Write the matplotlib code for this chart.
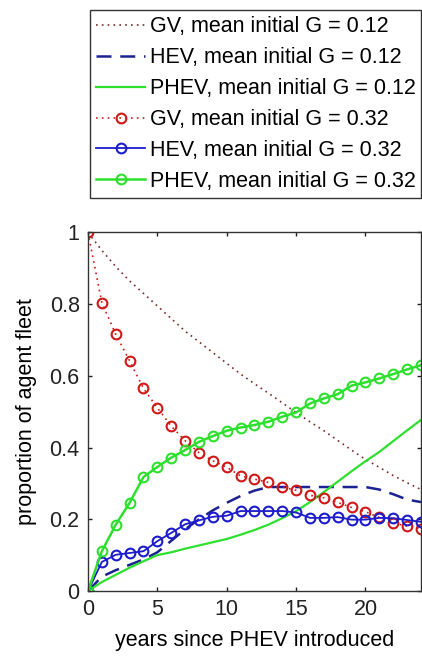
import numpy as np
import matplotlib
matplotlib.use("Agg")
import matplotlib.pyplot as plt

plt.rcParams["font.family"] = ["Liberation Sans", "DejaVu Sans"]

years = np.arange(0, 25)

# mean initial G = 0.12 (lines only)
gv_012 = [1.0, 0.95, 0.905, 0.865, 0.83, 0.795, 0.76, 0.725, 0.695, 0.665,
          0.635, 0.605, 0.578, 0.552, 0.525, 0.498, 0.472, 0.447, 0.42, 0.393,
          0.367, 0.345, 0.322, 0.302, 0.283]
hev_012 = [0.0, 0.04, 0.058, 0.073, 0.088, 0.108, 0.14, 0.172, 0.2, 0.225,
           0.246, 0.265, 0.28, 0.29, 0.29, 0.29, 0.29, 0.29, 0.29, 0.29,
           0.29, 0.283, 0.27, 0.255, 0.248]
phev_012 = [0.0, 0.025, 0.045, 0.065, 0.083, 0.1, 0.108, 0.118, 0.127, 0.136,
            0.145, 0.157, 0.17, 0.185, 0.203, 0.223, 0.248, 0.276, 0.305, 0.334,
            0.362, 0.388, 0.418, 0.448, 0.477]

# mean initial G = 0.32 (lines with circle markers)
gv_032 = [1.0, 0.804, 0.716, 0.642, 0.565, 0.511, 0.46, 0.419, 0.386, 0.363,
          0.345, 0.321, 0.312, 0.303, 0.29, 0.281, 0.267, 0.26, 0.247, 0.233,
          0.221, 0.205, 0.19, 0.181, 0.174]
hev_032 = [0.0, 0.081, 0.101, 0.106, 0.111, 0.139, 0.162, 0.186, 0.197, 0.207,
           0.21, 0.223, 0.223, 0.223, 0.223, 0.219, 0.204, 0.204, 0.206, 0.199,
           0.199, 0.204, 0.203, 0.198, 0.193]
phev_032 = [0.0, 0.111, 0.185, 0.246, 0.318, 0.346, 0.372, 0.393, 0.416, 0.432,
            0.447, 0.456, 0.463, 0.472, 0.486, 0.498, 0.523, 0.537, 0.549, 0.573,
            0.582, 0.593, 0.605, 0.618, 0.63]

labels = [
    "GV, mean initial G = 0.12",
    "HEV, mean initial G = 0.12",
    "PHEV, mean initial G = 0.12",
    "GV, mean initial G = 0.32",
    "HEV, mean initial G = 0.32",
    "PHEV, mean initial G = 0.32",
]

red = "#d01818"
maroon = "#7a2a2a"
blue = "#1c1ccc"
navy = "#1c2290"
green = "#2ee02e"

fig = plt.figure(figsize=(4.22, 6.59), dpi=100)
ax = fig.add_axes([0.2085, 0.1032, 0.789, 0.544])

ax.plot(years, gv_012, color=maroon, lw=1.2, dashes=(1, 2.5), label=labels[0])
ax.plot(years, hev_012, color=navy, lw=1.8, dashes=(6, 3.5), label=labels[1])
ax.plot(years, phev_012, color=green, lw=1.6, label=labels[2])

mk = dict(marker="o", markersize=7, markerfacecolor="none", markeredgewidth=1.5)
ax.plot(years, gv_032, color=red, lw=1.2, dashes=(1, 2.5), label=labels[3], **mk)
ax.plot(years, hev_032, color=blue, lw=1.3, label=labels[4], **mk)
ax.plot(years, phev_032, color=green, lw=1.8, label=labels[5], **mk)

ax.set_xlim(0, 24)
ax.set_ylim(0, 1)
ax.set_xticks([0, 5, 10, 15, 20])
ax.set_yticks([0, 0.2, 0.4, 0.6, 0.8, 1])
ax.set_yticklabels(["0", "0.2", "0.4", "0.6", "0.8", "1"])
ax.tick_params(direction="in", top=True, right=True, length=3, width=1,
               labelsize=15.5, colors="#222222", pad=6)
for s in ax.spines.values():
    s.set_color("#333333")
    s.set_linewidth(1.0)

ax.set_xlabel("years since PHEV introduced", fontsize=15.5, labelpad=7)
ax.set_ylabel("proportion of agent fleet", fontsize=15.5, labelpad=9)

leg = fig.legend(loc="upper left", bbox_to_anchor=(0.2133, 0.985, 0.785, 0.0),
                 mode="expand", fontsize=15.5, numpoints=1, handlelength=2.25,
                 handletextpad=0.25, labelspacing=0.46, borderpad=0.3,
                 borderaxespad=0.0, fancybox=False, edgecolor="#333333",
                 framealpha=1)
leg.get_frame().set_linewidth(1.0)

fig.savefig("out.png", dpi=100)
